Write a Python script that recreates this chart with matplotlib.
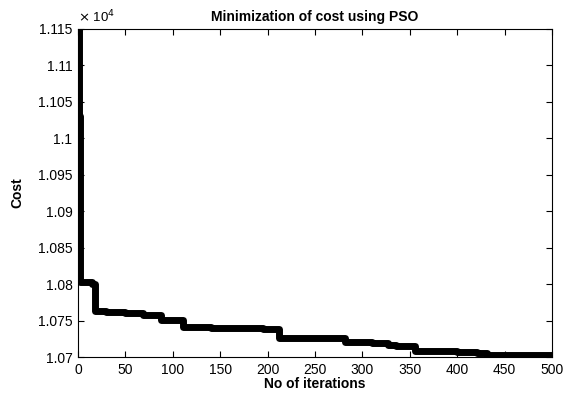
import matplotlib
matplotlib.use("Agg")
import matplotlib.pyplot as plt
from matplotlib.ticker import FuncFormatter

# step breakpoints of the best cost
iters = [0, 1, 2, 15, 18, 30, 50, 69, 88, 111, 140, 195, 212, 282, 310, 327, 335, 356, 400, 421, 431, 500]
cost = [11150, 11030, 10803, 10800, 10763, 10762, 10761, 10758, 10751, 10741, 10740, 10738, 10726,
        10721, 10719, 10716, 10715, 10708, 10707, 10705, 10703, 10703]

xticks = [0, 50, 100, 150, 200, 250, 300, 350, 400, 450, 500]
yticks = [10700, 10750, 10800, 10850, 10900, 10950, 11000, 11050, 11100, 11150]

plt.rcParams['font.family'] = ['Liberation Sans', 'DejaVu Sans']

fig = plt.figure(figsize=(5.71, 3.94), dpi=100)
ax = fig.add_axes([0.1366, 0.0939, 0.83, 0.8325])

ax.plot(iters, cost, color='black', linewidth=5, drawstyle='steps-post', solid_capstyle='butt')

ax.set_xlim(0, 500)
ax.set_ylim(10700, 11150)
ax.set_xticks(xticks)
ax.set_yticks(yticks)
ax.yaxis.set_major_formatter(FuncFormatter(lambda v, p: ('%g' % (v / 1e4))))
ax.tick_params(direction='in', top=True, right=True, labelsize=10, length=4, width=0.8, pad=4)
for s in ax.spines.values():
    s.set_linewidth(0.8)

ax.text(0.0, 1.01, r'$\times$ 10$^4$', transform=ax.transAxes, fontsize=9.5, ha='left', va='bottom')
ax.set_title('Minimization of cost using PSO', fontsize=10, fontweight='bold', pad=6)
ax.set_xlabel('No of iterations', fontsize=10, fontweight='bold', labelpad=0)
ax.set_ylabel('Cost', fontsize=10, fontweight='bold', labelpad=10)

fig.savefig('out.png', dpi=100)
